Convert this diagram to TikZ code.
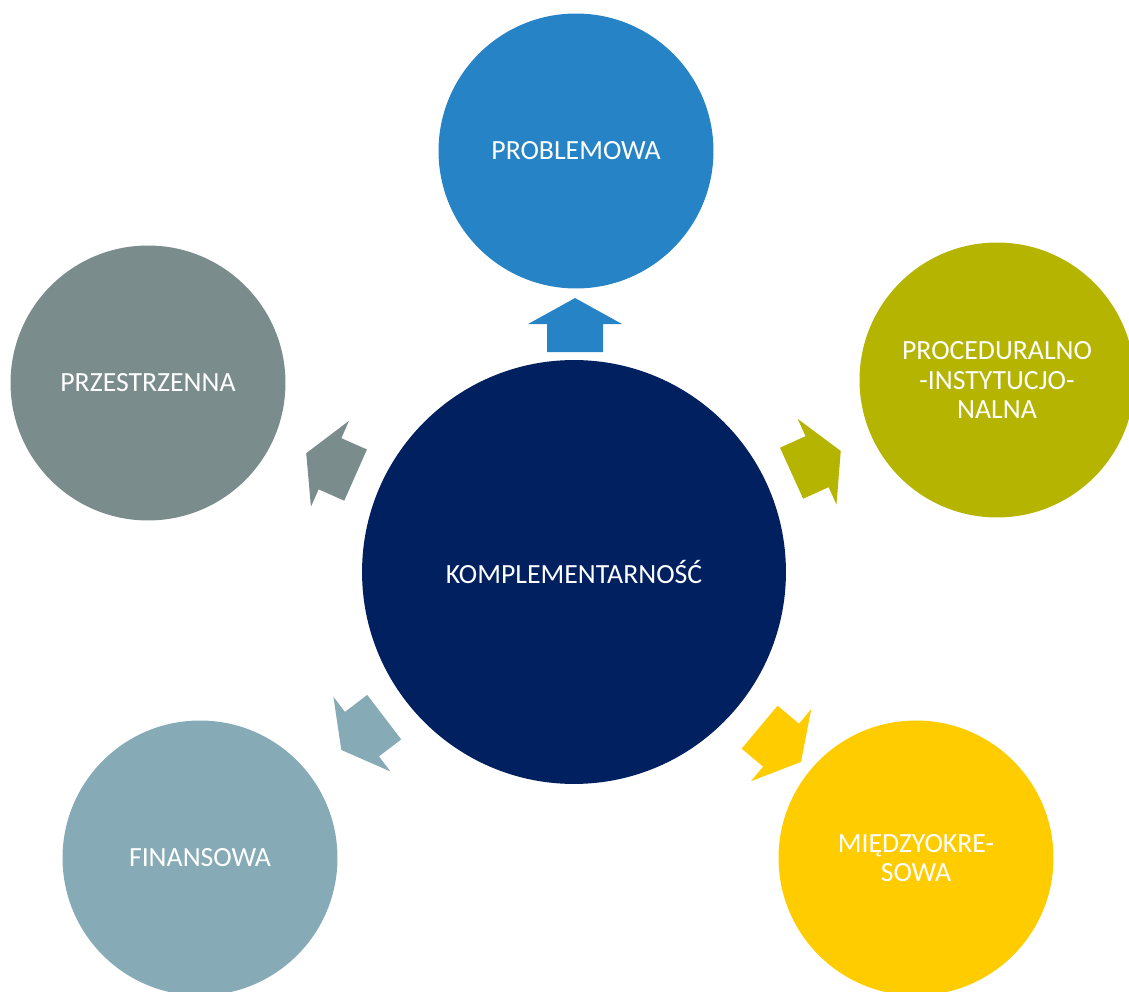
\documentclass[tikz,border=0pt]{standalone}
\usepackage{fontspec}
\setmainfont{Carlito}
\usetikzlibrary{calc}

\definecolor{hubnavy}{RGB}{0,32,96}
\definecolor{probblue}{RGB}{38,131,198}
\definecolor{procolive}{RGB}{181,180,0}
\definecolor{przegray}{RGB}{123,140,140}
\definecolor{fingray}{RGB}{134,171,182}
\definecolor{miedyellow}{RGB}{255,204,0}

\begin{document}
\begin{tikzpicture}[x=0.02cm, y=0.02cm,
    sat/.style={circle, inner sep=0pt, minimum size=5.5cm, text=white,
        align=center, font=\fontsize{15.8}{16.6}\selectfont},
    blockarrow/.pic={
        \path[pic actions] (0,-28) -- (28,-28) -- (28,-47) -- (54,0)
            -- (28,47) -- (28,28) -- (0,28) -- cycle;
    }]

    \useasboundingbox (0,0) rectangle (1129,991);

    % circles
    \node[circle, inner sep=0pt, minimum size=8.48cm, fill=hubnavy, text=white,
        font=\fontsize{15.8}{18}\selectfont] (hub) at (574,419) {KOMPLEMENTARNOŚĆ};
    \node[sat, fill=probblue] (prob) at (576,840) {PROBLEMOWA};
    \node[sat, fill=procolive] (proc) at (997,611) {PROCEDURALNO\\-INSTYTUCJO-\\NALNA};
    \node[sat, fill=przegray] (prze) at (148,608) {PRZESTRZENNA};
    \node[sat, fill=fingray] (fin) at (200,133) {FINANSOWA};
    \node[sat, fill=miedyellow] (mied) at (916,133) {MIĘDZYOKRE-\\SOWA};

    % arrows
    \pic[fill=probblue, rotate=90] at ($(hub)!4.4cm!(prob)$) {blockarrow};
    \pic[fill=procolive, rotate=24.4] at ($(hub)!4.78cm!(proc)$) {blockarrow};
    \pic[fill=przegray, rotate=156.1] at ($(hub)!4.78cm!(prze)$) {blockarrow};
    \pic[fill=fingray, rotate=217.4] at ($(hub)!4.78cm!(fin)$) {blockarrow};
    \pic[fill=miedyellow, rotate=-39.9] at ($(hub)!4.84cm!(mied)$) {blockarrow};

\end{tikzpicture}
\end{document}
